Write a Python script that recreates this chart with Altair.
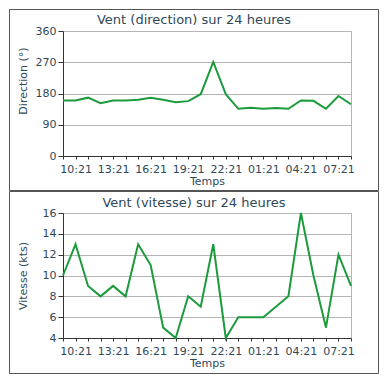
import json
import altair as alt
import pandas as pd

times = ["09:21", "10:21", "11:21", "12:21", "13:21", "14:21", "15:21", "16:21",
         "17:21", "18:21", "19:21", "20:21", "21:21", "22:21", "23:21", "00:21",
         "01:21", "02:21", "03:21", "04:21", "05:21", "06:21", "07:21", "08:21"]
direction = [160, 160, 168, 152, 160, 160, 162, 168, 162, 155, 158, 178,
             271, 178, 136, 139, 136, 138, 136, 160, 159, 136, 173, 149]
speed = [10, 13, 9, 8, 9, 8, 13, 11, 5, 4, 8, 7,
         13, 4, 6, 6, 6, 7, 8, 16, 10, 5, 12, 9]
shown_labels = times[1::3]
dir_ticks = [0, 90, 180, 270, 360]
speed_ticks = [4, 6, 8, 10, 12, 14, 16]

FONT = "DejaVu Sans"
TEXT = "#2f4858"
GREEN = "#1c9b3c"
GRID = "#b4b4b4"
DARK = "#333333"
FRAME = "#555555"

label_expr = "indexof(" + json.dumps(shown_labels) + ", datum.value) >= 0 ? datum.value : ''"
one = pd.DataFrame({"f": [0]})


def frame_layers(left, right, top, bottom):
    edges = [
        dict(x=alt.value(left), x2=alt.value(right), y=alt.value(top)),
        dict(x=alt.value(left), x2=alt.value(right), y=alt.value(bottom)),
        dict(x=alt.value(left), y=alt.value(top), y2=alt.value(bottom)),
        dict(x=alt.value(right), y=alt.value(top), y2=alt.value(bottom)),
    ]
    return [
        alt.Chart(one).mark_rule(color=FRAME, strokeWidth=1, clip=False).encode(**e)
        for e in edges
    ]


def panel(values, title, title_y, ytitle, domain, ticks, frame_bottom, ytitle_y=None):
    df = pd.DataFrame({"time": times, "v": values})
    yaxis_kw = dict(values=ticks, title=ytitle, tickSize=5, labelPadding=2,
                    titleX=-40, titleBaseline="middle", titleAngle=-90)
    if ytitle_y is not None:
        yaxis_kw["titleY"] = ytitle_y
    line = alt.Chart(df).mark_line(color=GREEN, strokeWidth=2).encode(
        x=alt.X("time:O", sort=None,
                scale=alt.Scale(type="point", padding=0),
                axis=alt.Axis(title="Temps", labelExpr=label_expr, labelAngle=0,
                              tickSize=3, labelPadding=4, grid=False,
                              titleY=19, titleBaseline="top")),
        y=alt.Y("v:Q", scale=alt.Scale(domain=domain, nice=False, zero=False),
                axis=alt.Axis(**yaxis_kw)),
    )
    head = alt.Chart(one).mark_text(
        font=FONT, fontSize=13, color=TEXT, align="center", baseline="middle",
        clip=False,
    ).encode(x=alt.value(131), y=alt.value(title_y), text=alt.value(title))
    return alt.layer(
        *frame_layers(-53.5, 315.5, -21.5, frame_bottom), head, line
    ).properties(width=288, height=125)


top = panel(direction, "Vent (direction) sur 24 heures", -11, "Direction (°)",
            [0, 360], dir_ticks, 159.5, ytitle_y=49.5)
bottom = panel(speed, "Vent (vitesse) sur 24 heures", -10, "Vitesse (kts)",
               [4, 16], speed_ticks, 160.5)

chart = alt.vconcat(top, bottom, spacing=57, bounds="flush").properties(
    padding=0
).configure_view(
    stroke=GRID
).configure_axis(
    labelFont=FONT, labelFontSize=11, labelColor=TEXT,
    titleFont=FONT, titleFontSize=11, titleColor=TEXT, titleFontWeight="normal",
    gridColor=GRID, gridWidth=1, domainColor=DARK, tickColor=DARK,
)

chart.save("out.html", embed_options={"renderer": "svg", "actions": False})
